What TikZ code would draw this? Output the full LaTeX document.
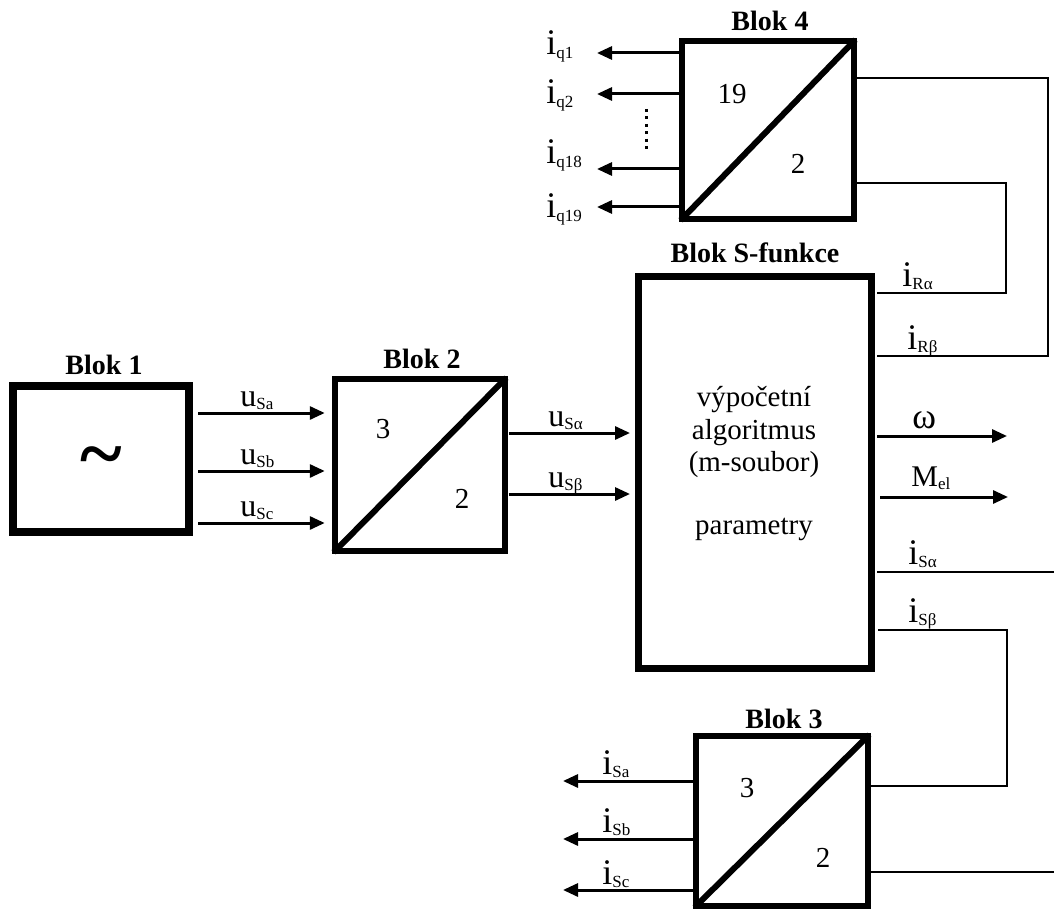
\documentclass[tikz,border=0pt]{standalone}
\usepackage{fontspec}
\setmainfont{Liberation Serif}
\usetikzlibrary{arrows.meta}
\newcommand\sig[3]{{\fontsize{#1}{#1}\selectfont #2}\raisebox{-1.6pt}{\fontsize{8.5}{8.5}\selectfont #3}}
\begin{document}
\begin{tikzpicture}[x=0.5pt,y=-0.5pt,
  blk/.style={draw, line width=2.75pt, inner sep=0pt},
  diag/.style={line width=3pt, shorten <=1pt, shorten >=1pt},
  arr/.style={line width=1.5pt, -{Triangle[length=7.5pt,width=6.5pt]}},
  wire/.style={line width=0.9pt},
  ttl/.style={inner sep=0pt, font=\fontsize{14}{16}\selectfont\bfseries},
  num/.style={inner sep=0pt, font=\fontsize{14.5}{16}\selectfont},
  body/.style={inner sep=0pt, font=\fontsize{14.5}{16}\selectfont},
  lab/.style={inner sep=0pt, anchor=base west}]
\useasboundingbox (0,0) rectangle (1054,909);
% blocks
\node[blk, line width=4pt, minimum width=88pt, minimum height=73pt] (b1) at (101,459) {};
\node[blk, minimum width=85pt, minimum height=86pt] (b2) at (420,465) {};
\node[blk, line width=3.5pt, minimum width=116.5pt, minimum height=196pt] (bs) at (754.5,472) {};
\node[blk, minimum width=86pt, minimum height=89pt] (b4) at (768,130) {};
\node[blk, minimum width=86pt, minimum height=85pt] (b3) at (782,821) {};
\foreach \b in {b2,b4,b3} \draw[diag] (\b.south west) -- (\b.north east);
% titles
\node[ttl, anchor=base] (t1) at (104,374) {Blok 1};
\node[ttl, anchor=base] (t2) at (422,368) {Blok 2};
\node[ttl, anchor=base] (ts) at (755,263) {Blok S-funkce};
\node[ttl, anchor=base] (t4) at (770,31) {Blok 4};
\node[ttl, anchor=base] (t3) at (784,728) {Blok 3};
% block contents
\node[inner sep=0pt, font=\fontsize{40}{40}\selectfont\bfseries] (tilde) at (101,464) {\textasciitilde};
\node[num, anchor=base] (n23) at (383,438) {3};
\node[num, anchor=base] (n22) at (462,508) {2};
\node[num, anchor=base] (n419) at (732,104) {19};
\node[num, anchor=base] (n42) at (798,174) {2};
\node[num, anchor=base] (n33) at (747,797) {3};
\node[num, anchor=base] (n32) at (823,867) {2};
\node[body, anchor=base] (s1) at (754,406) {výpočetní};
\node[body, anchor=base] (s2) at (754,439) {algoritmus};
\node[body, anchor=base] (s3) at (754,471) {(m-soubor)};
\node[body, anchor=base] (s4) at (754,534) {parametry};
% Blok 1 -> Blok 2
\foreach \y in {413,471,523}
  \draw[arr, shorten <=2.5pt, shorten >=3.75pt] (b1.east |- 0,\y) -- (b2.west |- 0,\y);
\node[lab] (lua) at (240,406) {\sig{16}{u}{Sa}};
\node[lab] (lub) at (240,464) {\sig{16}{u}{Sb}};
\node[lab] (luc) at (240,516) {\sig{16}{u}{Sc}};
% Blok 2 -> S
\foreach \y in {433,494}
  \draw[arr, shorten <=0.5pt, shorten >=2.25pt] (b2.east |- 0,\y) -- (bs.west |- 0,\y);
\node[lab] (lual) at (548,426) {\sig{16}{u}{Sα}};
\node[lab] (lube) at (548,487) {\sig{16}{u}{Sβ}};
% S outputs
\coordinate (ow) at (1007,436);
\coordinate (om) at (1008,497);
\draw[arr, shorten <=1.25pt] (bs.east |- ow) -- (ow);
\draw[arr, shorten <=2.75pt] (bs.east |- om) -- (om);
\node[lab] (lw) at (912,428) {\fontsize{18}{18}\selectfont ω};
\node[lab] (lm) at (911,486) {\sig{15}{M}{el}};
\coordinate (osa) at (1054,572);
\draw[wire, shorten <=1.25pt] (bs.east |- osa) -- (osa);
\node[lab] (lisa) at (908,564) {\sig{18}{i}{Sα}};
% Blok 4 feedback
\coordinate (r1) at (1048,78);
\coordinate (r2) at (1048,356);
\draw[wire, shorten >=1.25pt] (b4.east |- r1) -- (r1) -- (r2) -- (bs.east |- r2);
\coordinate (r3) at (1006,183);
\coordinate (r4) at (1006,293);
\draw[wire, shorten >=1.25pt] (b4.east |- r3) -- (r3) -- (r4) -- (bs.east |- r4);
\node[lab] (lira) at (902,286) {\sig{18}{i}{Rα}};
\node[lab] (lirb) at (907,349) {\sig{18}{i}{Rβ}};
% Blok 3 feedback
\coordinate (r5) at (1007,786);
\coordinate (r6) at (1007,630);
\draw[wire, shorten >=1.75pt] (b3.east |- r5) -- (r5) -- (r6) -- (bs.east |- r6);
\node[lab] (lisb) at (908,622) {\sig{18}{i}{Sβ}};
\coordinate (r7) at (1054,872);
\draw[wire] (b3.east |- r7) -- (r7);
% Blok 4 outputs
\coordinate (q1) at (597,53);
\coordinate (q2) at (597,94);
\coordinate (q18) at (597,169);
\coordinate (q19) at (597,207);
\foreach \q in {q1,q2,q18,q19} \draw[arr] (b4.west |- \q) -- (\q);
\node[lab] (liq1) at (546,55) {\sig{18}{i}{q1}};
\node[lab] (liq2) at (546,104) {\sig{18}{i}{q2}};
\node[lab] (liq18) at (546,164) {\sig{18}{i}{q18}};
\node[lab] (liq19) at (546,218) {\sig{18}{i}{q19}};
\draw[line width=1.5pt, dash pattern=on 1.5pt off 2.2pt] (646,109) -- (646,150);
% Blok 3 outputs
\coordinate (a1) at (563,781);
\coordinate (a2) at (563,839);
\coordinate (a3) at (563,890);
\foreach \q in {a1,a2,a3} \draw[arr] (b3.west |- \q) -- (\q);
\node[lab] (lia) at (602,774) {\sig{18}{i}{Sa}};
\node[lab] (lib) at (602,832) {\sig{18}{i}{Sb}};
\node[lab] (lic) at (602,884) {\sig{18}{i}{Sc}};
\end{tikzpicture}
\end{document}
